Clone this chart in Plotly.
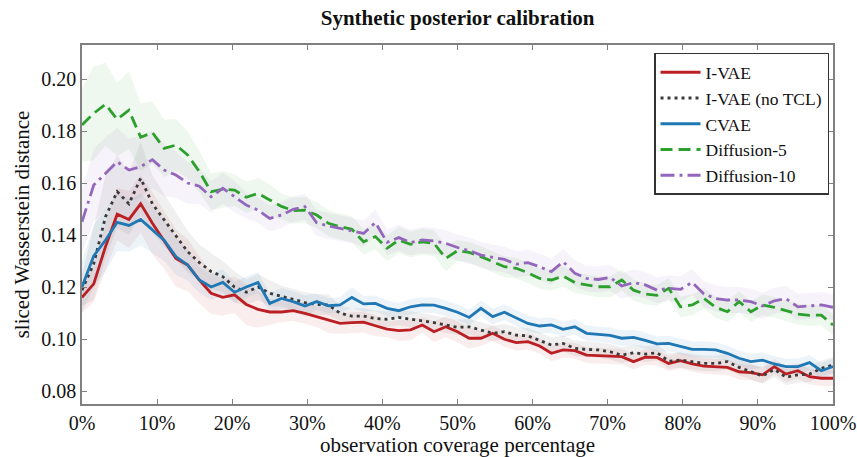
import plotly.graph_objects as go

n_pts = 65
coverage = [i * 100.0 / (n_pts - 1) for i in range(n_pts)]

ivae = [0.1160, 0.1212, 0.1355, 0.1480, 0.1460, 0.1520, 0.1445, 0.1380, 0.1310, 0.1285,
        0.1227, 0.1176, 0.1160, 0.1170, 0.1133, 0.1114, 0.1104, 0.1104, 0.1109, 0.1099,
        0.1086, 0.1073, 0.1060, 0.1063, 0.1065, 0.1051, 0.1038, 0.1032, 0.1035, 0.1054,
        0.1028, 0.1047, 0.1028, 0.1003, 0.1003, 0.1022, 0.0999, 0.0986, 0.0990, 0.0973,
        0.0945, 0.0958, 0.0955, 0.0938, 0.0936, 0.0935, 0.0932, 0.0913, 0.0930, 0.0929,
        0.0906, 0.0917, 0.0904, 0.0896, 0.0894, 0.0891, 0.0874, 0.0871, 0.0862, 0.0894,
        0.0865, 0.0878, 0.0855, 0.0849, 0.0849]

ivae_notcl = [0.1188, 0.1290, 0.1470, 0.1567, 0.1520, 0.1618, 0.1520, 0.1458, 0.1394, 0.1336,
              0.1294, 0.1260, 0.1240, 0.1200, 0.1180, 0.1200, 0.1176, 0.1165, 0.1153, 0.1140,
              0.1133, 0.1131, 0.1099, 0.1088, 0.1088, 0.1079, 0.1076, 0.1083, 0.1077, 0.1069,
              0.1063, 0.1054, 0.1045, 0.1047, 0.1035, 0.1022, 0.1028, 0.1015, 0.1012, 0.0996,
              0.0977, 0.0983, 0.0964, 0.0960, 0.0958, 0.0951, 0.0938, 0.0947, 0.0942, 0.0947,
              0.0915, 0.0919, 0.0913, 0.0906, 0.0906, 0.0913, 0.0891, 0.0874, 0.0858, 0.0883,
              0.0853, 0.0862, 0.0865, 0.0887, 0.0900]

cvae = [0.1200, 0.1320, 0.1380, 0.1449, 0.1437, 0.1460, 0.1420, 0.1380, 0.1317, 0.1285,
        0.1227, 0.1200, 0.1218, 0.1180, 0.1200, 0.1217, 0.1137, 0.1156, 0.1144, 0.1127,
        0.1144, 0.1128, 0.1131, 0.1160, 0.1135, 0.1137, 0.1118, 0.1109, 0.1124, 0.1131,
        0.1130, 0.1118, 0.1103, 0.1083, 0.1118, 0.1086, 0.1103, 0.1080, 0.1060, 0.1050,
        0.1054, 0.1037, 0.1047, 0.1022, 0.1019, 0.1014, 0.1003, 0.1006, 0.0995, 0.0981,
        0.0983, 0.0971, 0.0960, 0.0960, 0.0958, 0.0945, 0.0926, 0.0913, 0.0919, 0.0904,
        0.0894, 0.0894, 0.0909, 0.0878, 0.0894]

diff5 = [0.1823, 0.1868, 0.1903, 0.1845, 0.1880, 0.1776, 0.1794, 0.1733, 0.1746, 0.1708,
         0.1644, 0.1567, 0.1576, 0.1573, 0.1545, 0.1560, 0.1535, 0.1510, 0.1494, 0.1496,
         0.1477, 0.1445, 0.1432, 0.1422, 0.1374, 0.1394, 0.1349, 0.1381, 0.1364, 0.1374,
         0.1368, 0.1310, 0.1340, 0.1333, 0.1317, 0.1297, 0.1278, 0.1272, 0.1255, 0.1233,
         0.1227, 0.1242, 0.1217, 0.1208, 0.1201, 0.1201, 0.1227, 0.1188, 0.1173, 0.1168,
         0.1195, 0.1124, 0.1131, 0.1156, 0.1122, 0.1105, 0.1144, 0.1105, 0.1131, 0.1122,
         0.1109, 0.1096, 0.1091, 0.1092, 0.1054]

diff10 = [0.1451, 0.1592, 0.1637, 0.1682, 0.1650, 0.1663, 0.1690, 0.1650, 0.1631, 0.1600,
          0.1588, 0.1547, 0.1580, 0.1547, 0.1515, 0.1496, 0.1464, 0.1477, 0.1499, 0.1509,
          0.1447, 0.1435, 0.1426, 0.1417, 0.1406, 0.1448, 0.1372, 0.1390, 0.1371, 0.1381,
          0.1377, 0.1368, 0.1352, 0.1340, 0.1323, 0.1314, 0.1306, 0.1288, 0.1294, 0.1278,
          0.1259, 0.1297, 0.1253, 0.1233, 0.1229, 0.1237, 0.1204, 0.1217, 0.1208, 0.1188,
          0.1195, 0.1191, 0.1218, 0.1173, 0.1156, 0.1150, 0.1150, 0.1144, 0.1127, 0.1147,
          0.1155, 0.1124, 0.1127, 0.1131, 0.1122]

# band half-widths (spread across runs)
ivae_sd = [0.006, 0.007, 0.009, 0.010, 0.011, 0.011, 0.012, 0.011, 0.011, 0.010,
           0.009, 0.008, 0.007, 0.007, 0.008, 0.007, 0.005, 0.004, 0.004, 0.004,
           0.004, 0.005, 0.004, 0.004, 0.004, 0.004, 0.003, 0.004, 0.004, 0.003,
           0.004, 0.004, 0.004, 0.004, 0.003, 0.003, 0.003, 0.003, 0.003, 0.003,
           0.003, 0.003, 0.003, 0.003, 0.003, 0.003, 0.003, 0.003, 0.003, 0.003,
           0.003, 0.003, 0.003, 0.003, 0.003, 0.003, 0.003, 0.003, 0.003, 0.003,
           0.003, 0.003, 0.003, 0.003, 0.003]
notcl_sd = [0.006, 0.014, 0.016, 0.014, 0.012, 0.014, 0.011, 0.010, 0.009, 0.008,
            0.007, 0.007, 0.006, 0.006, 0.005, 0.005, 0.005, 0.004, 0.004, 0.004,
            0.004, 0.004, 0.003, 0.003, 0.003, 0.003, 0.003, 0.003, 0.003, 0.003,
            0.003, 0.003, 0.003, 0.003, 0.003, 0.003, 0.003, 0.003, 0.003, 0.003,
            0.003, 0.003, 0.003, 0.003, 0.003, 0.003, 0.003, 0.003, 0.003, 0.003,
            0.003, 0.003, 0.003, 0.003, 0.003, 0.003, 0.003, 0.003, 0.003, 0.003,
            0.003, 0.003, 0.003, 0.003, 0.003]
cvae_sd = [0.010, 0.012, 0.012, 0.011, 0.010, 0.010, 0.009, 0.008, 0.007, 0.006,
           0.005, 0.005, 0.005, 0.004, 0.004, 0.004, 0.004, 0.004, 0.004, 0.004,
           0.003, 0.003, 0.003, 0.004, 0.003, 0.003, 0.003, 0.003, 0.003, 0.003,
           0.003, 0.003, 0.003, 0.003, 0.003, 0.003, 0.003, 0.003, 0.003, 0.003,
           0.003, 0.003, 0.003, 0.003, 0.003, 0.003, 0.003, 0.003, 0.003, 0.003,
           0.003, 0.003, 0.003, 0.003, 0.003, 0.003, 0.003, 0.003, 0.003, 0.003,
           0.003, 0.003, 0.003, 0.003, 0.003]
diff5_sd = [0.014, 0.018, 0.016, 0.014, 0.015, 0.013, 0.012, 0.011, 0.010, 0.009,
            0.008, 0.007, 0.007, 0.006, 0.006, 0.006, 0.006, 0.005, 0.005, 0.005,
            0.005, 0.005, 0.005, 0.005, 0.005, 0.005, 0.005, 0.005, 0.005, 0.005,
            0.005, 0.005, 0.004, 0.004, 0.004, 0.004, 0.004, 0.004, 0.004, 0.004,
            0.004, 0.004, 0.004, 0.004, 0.004, 0.004, 0.004, 0.004, 0.004, 0.004,
            0.004, 0.004, 0.004, 0.004, 0.004, 0.004, 0.004, 0.004, 0.004, 0.004,
            0.004, 0.004, 0.004, 0.004, 0.004]
diff10_sd = [0.012, 0.014, 0.014, 0.013, 0.012, 0.012, 0.011, 0.010, 0.009, 0.008,
             0.007, 0.006, 0.006, 0.006, 0.005, 0.005, 0.005, 0.005, 0.005, 0.005,
             0.005, 0.005, 0.005, 0.005, 0.005, 0.005, 0.005, 0.005, 0.005, 0.005,
             0.005, 0.005, 0.005, 0.005, 0.005, 0.005, 0.005, 0.005, 0.005, 0.005,
             0.005, 0.005, 0.005, 0.005, 0.005, 0.005, 0.005, 0.005, 0.005, 0.005,
             0.005, 0.005, 0.005, 0.005, 0.005, 0.005, 0.005, 0.005, 0.005, 0.005,
             0.005, 0.005, 0.005, 0.005, 0.005]

series = [
    ("I-VAE", ivae, ivae_sd, "#bb1f24", (187, 31, 36), "solid"),
    ("I-VAE (no TCL)", ivae_notcl, notcl_sd, "#3a3a3a", (60, 60, 60), "3px,4px"),
    ("CVAE", cvae, cvae_sd, "#1f77b4", (31, 119, 180), "solid"),
    ("Diffusion-5", diff5, diff5_sd, "#2ca02c", (44, 160, 44), "12px,6px"),
    ("Diffusion-10", diff10, diff10_sd, "#9467bd", (148, 103, 189), "14px,5px,3px,5px"),
]

fig = go.Figure()

for name, vals, sd, col, rgb, dash in series:
    upper = [v + s for v, s in zip(vals, sd)]
    lower = [v - s for v, s in zip(vals, sd)]
    fig.add_trace(go.Scatter(
        x=coverage + coverage[::-1],
        y=upper + lower[::-1],
        fill="toself",
        fillcolor="rgba(%d,%d,%d,0.08)" % rgb,
        line=dict(width=0),
        hoverinfo="skip",
        showlegend=False,
    ))

for name, vals, sd, col, rgb, dash in series:
    fig.add_trace(go.Scatter(
        x=coverage, y=vals, mode="lines", name=name,
        line=dict(color=col, width=2.8, dash=dash),
    ))

FONT = "Liberation Serif"
axis_common = dict(
    showgrid=False, zeroline=False, showline=True, linecolor="#808080", linewidth=1.5,
    mirror="ticks", ticks="inside", ticklen=5, tickcolor="#808080", tickwidth=1,
    automargin=False,
    tickfont=dict(family=FONT, size=20, color="#111111"),
)

fig.update_layout(
    width=857, height=457,
    margin=dict(l=82, r=24, t=45, b=53),
    paper_bgcolor="white", plot_bgcolor="white",
    font=dict(family=FONT, color="#111111"),
    title=dict(text="<b>Synthetic posterior calibration</b>", x=0.534, xanchor="center",
               y=0.962, yanchor="middle",
               font=dict(family=FONT, size=21, color="#111111")),
    xaxis=dict(range=[0, 100], dtick=10, tick0=0, ticksuffix="%",
               title=dict(text="observation coverage percentage", standoff=4,
                          font=dict(family=FONT, size=21, color="#111111")),
               **axis_common),
    yaxis=dict(range=[0.0750, 0.2131], dtick=0.02, tick0=0.08, tickformat=".2f",
               title=dict(text="sliced Wasserstein distance", standoff=6,
                          font=dict(family=FONT, size=21, color="#111111")),
               **axis_common),
    legend=dict(x=0.9947, y=0.978, xanchor="right", yanchor="top",
                bgcolor="white", bordercolor="#333333", borderwidth=1.5,
                font=dict(family=FONT, size=17.5, color="#111111"),
                itemwidth=40, tracegroupgap=0),
    showlegend=True,
)

fig.write_html("out.html")
